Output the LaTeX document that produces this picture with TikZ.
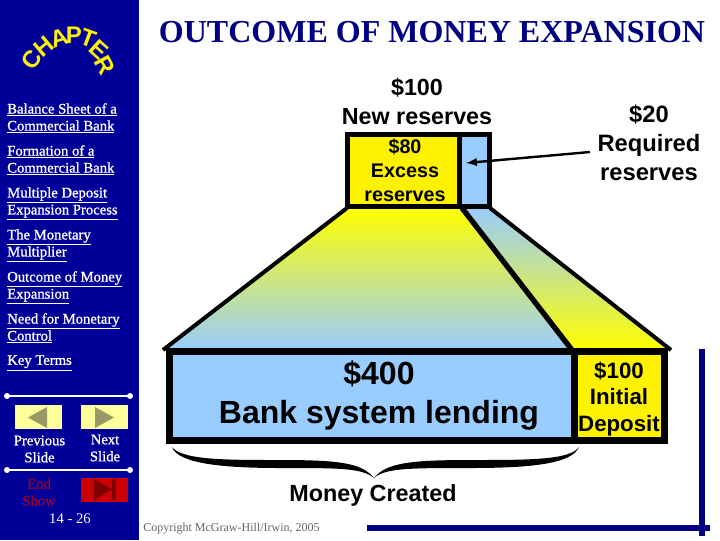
\documentclass[tikz,border=0pt]{standalone}
\usepackage{fontspec}
\setmainfont{Liberation Serif}
\newfontfamily\arialfont{Liberation Sans}
\newfontfamily\boldserif[FakeBold=1]{Liberation Serif}
\usetikzlibrary{arrows,calc}
\definecolor{navy}{RGB}{0,0,153}
\definecolor{barblue}{RGB}{0,0,128}
\definecolor{skyblue}{RGB}{153,204,255}
\definecolor{paleyellow}{RGB}{255,255,153}
\definecolor{darkred}{RGB}{128,0,0}
\definecolor{endred}{RGB}{204,0,0}
\definecolor{endtextred}{RGB}{150,0,50}
\definecolor{olive}{RGB}{153,153,102}
\tikzset{
  menuitem/.style={anchor=north west,align=left,text=white,font=\boldserif\fontsize{11}{12.75}\selectfont,inner sep=0pt},
  heavy/.style={draw=black,line width=3.75pt,line join=miter},
  thickbox/.style={draw=black,line width=5.25pt,line join=miter},
  funnel/.style={draw=black,line width=3pt},
  sanslabel/.style={font=\arialfont\bfseries\fontsize{17.5}{21.75}\selectfont,align=center,inner sep=0pt},
  navbutton/.style={fill=paleyellow,draw=none,minimum width=35.25pt,minimum height=18pt,inner sep=0pt},
  navtext/.style={text=white,font=\boldserif\fontsize{11}{12.75}\selectfont,align=center,inner sep=0pt}
}
\begin{document}
\begin{tikzpicture}[x=0.75pt,y=-0.75pt]
      \useasboundingbox (0,0) rectangle (720,540);
      \fill[white] (0,0) rectangle (720,540);
      \fill[navy] (0,0) rectangle (139,540);
      % chapter arc
      \foreach \letter/\px/\py/\rot in {C/32/60/55,H/44/47/40,A/59/38/18,P/74/35/0,T/88/38/-20,E/99/50/-42,R/105/65/-62}
        \node[inner sep=0pt,text=yellow,rotate=\rot,font=\arialfont\bfseries\fontsize{18}{18}\selectfont] (chap\letter) at (\px,\py) {\letter};
      % side menu
      \node[menuitem] (balance) at (7,103) {\underline{Balance Sheet of a}\\\underline{Commercial Bank}};
      \node[menuitem] (formation) at (7,145) {\underline{Formation of a}\\\underline{Commercial Bank}};
      \node[menuitem] (multiple) at (7,187) {\underline{Multiple Deposit}\\\underline{Expansion Process}};
      \node[menuitem] (multiplier) at (7,229) {\underline{The Monetary}\\\underline{Multiplier}};
      \node[menuitem] (outcome) at (7,271) {\underline{Outcome of Money}\\\underline{Expansion}};
      \node[menuitem] (need) at (7,313) {\underline{Need for Monetary}\\\underline{Control}};
      \node[menuitem] (keyterms) at (7,355) {\underline{Key Terms}};
      % nav
      \draw[white,line width=1.2pt] (7,396) -- (130,396);
      \fill[white] (7,396) circle (3) (130,396) circle (3);
      \draw[white,line width=1.2pt] (7,470) -- (130,470);
      \fill[white] (7,470) circle (3) (130,470) circle (3);
      \node[navbutton] (prev) at (38,417) {};
      \node[navbutton] (next) at (104,417) {};
      \fill[olive] (47,407) -- (47,428) -- (28,417.5) -- cycle;
      \fill[olive] (95,407) -- (95,428) -- (114,417.5) -- cycle;
      \node[navtext] (prevtext) at (39.5,449) {Previous\\Slide};
      \node[navtext] (nexttext) at (105,448) {Next\\Slide};
      \node[navtext,text=endtextred] (endtext) at (39,492) {End\\Show};
      \node[navbutton,fill=endred] (endbutton) at (104,489.5) {};
      \fill[darkred] (94,479) -- (94,500) -- (112,489.5) -- cycle;
      \fill[darkred] (112,479) rectangle (116,500);
      \node[navtext,font=\fontsize{11}{13}\selectfont] (page) at (70,519) {14 - 26};
      % title
      \node[inner sep=0pt,text=barblue,font=\bfseries\fontsize{24}{28}\selectfont] (title) at (432,32) {OUTCOME OF MONEY EXPANSION};
      % funnels
      \shade[top color=yellow,bottom color=skyblue] (347,208) -- (462,208) -- (570,350) -- (163,350) -- cycle;
      \shade[top color=skyblue,bottom color=yellow] (462,208) -- (490,208) -- (671,350) -- (570,350) -- cycle;
      \draw[funnel] (347,208) -- (163,350);
      \draw[funnel,line width=4pt] (462,208) -- (572,350);
      \draw[funnel] (490,208) -- (671,350);
      % boxes
      \draw[heavy,fill=yellow] (347.5,134.5) rectangle (459.5,206.5);
      \draw[heavy,fill=skyblue] (459.5,134.5) rectangle (489,206.5);
      \draw[thickbox,fill=skyblue] (169.5,351) rectangle (574.5,440);
      \draw[thickbox,fill=yellow] (574.5,351) rectangle (664.5,440);
      % labels
      \node[sanslabel] (newres) at (417,101) {\$100\\New reserves};
      \node[sanslabel,font=\arialfont\bfseries\fontsize{14.8}{18}\selectfont] (excess) at (405,170) {\$80\\Excess\\reserves};
      \node[sanslabel,font=\arialfont\bfseries\fontsize{17.8}{21.75}\selectfont] (required) at (649,143) {\$20\\Required\\reserves};
      \node[sanslabel,font=\arialfont\bfseries\fontsize{24}{29.25}\selectfont] (lending) at (379,396) {\$400\\Bank system lending};
      \node[sanslabel,font=\arialfont\bfseries\fontsize{16.7}{20}\selectfont] (initial) at (619,399) {\$100\\Initial\\Deposit};
      \node[sanslabel] (created) at (373,495) {Money Created};
      \node[inner sep=0pt,text=black!60,font=\fontsize{9}{11}\selectfont,anchor=west] (copyright) at (143,529) {Copyright McGraw-Hill/Irwin, 2005};
      % arrow
      \coordinate (arrowend) at (590,152);
      \coordinate (arrowtip) at (466,163);
      \draw[-latex,line width=1.8pt] (arrowend) -- (arrowtip);
      % brace
      \coordinate (braceleft) at (172,447);
      \coordinate (braceright) at (579,447);
      \fill[black] (braceleft) .. controls (182,460) and (225,460) .. (280,460) .. controls (340,460) and (362,463) .. (374,478)
        .. controls (386,463) and (410,460) .. (470,460) .. controls (530,460) and (570,460) .. (braceright)
        .. controls (572,464) and (530,468) .. (470,468) .. controls (410,468) and (385,468) .. (374,478)
        .. controls (362,468) and (340,468) .. (280,468) .. controls (225,468) and (178,464) .. (braceleft) -- cycle;
      % corner bars
      \fill[barblue] (367,525) rectangle (710,531);
      \fill[barblue] (699,349) rectangle (705,536);
\end{tikzpicture}
\end{document}
